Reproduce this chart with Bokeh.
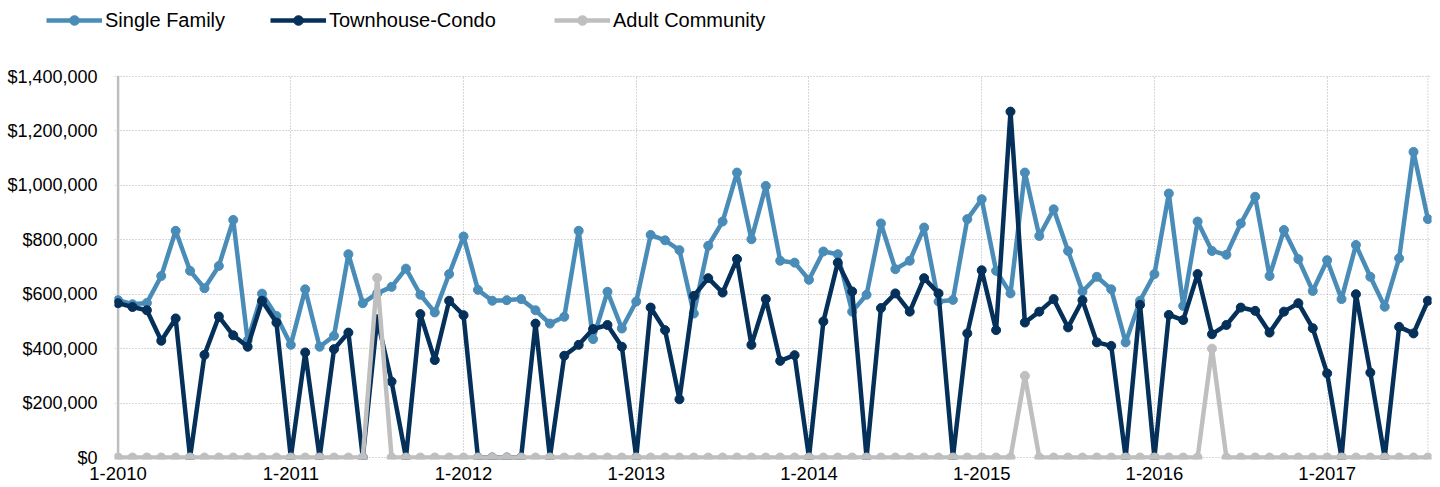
from bokeh.plotting import figure
from bokeh.layouts import column
from bokeh.models import Range1d, FixedTicker, NumeralTickFormatter, Span, Legend, LegendItem
from bokeh.embed import file_html
from bokeh.resources import INLINE

# ---------------- data ----------------
months = [f"{m}-{y}" for y in range(2010, 2018) for m in range(1, 13)][:92]
tick_positions = [0, 12, 24, 36, 48, 60, 72, 84]
tick_labels = ["1-2010", "1-2011", "1-2012", "1-2013", "1-2014", "1-2015", "1-2016", "1-2017"]
y_ticks = [0, 200000, 400000, 600000, 800000, 1000000, 1200000, 1400000]

single_family = [
    578000, 563000, 568000, 667000, 833000, 686000, 622000, 704000, 873000, 430000, 602000, 520000,
    414000, 618000, 407000, 447000, 747000, 567000, 603000, 627000, 694000, 598000, 533000, 674000,
    812000, 616000, 576000, 578000, 582000, 541000, 492000, 517000, 833000, 435000, 609000, 474000,
    573000, 818000, 798000, 762000, 529000, 778000, 867000, 1047000, 802000, 998000, 723000, 716000,
    653000, 757000, 747000, 536000, 598000, 860000, 692000, 723000, 845000, 573000, 579000, 876000,
    949000, 686000, 603000, 1047000, 814000, 912000, 759000, 610000, 664000, 618000, 423000, 576000,
    674000, 970000, 557000, 867000, 759000, 745000, 860000, 958000, 667000, 836000, 729000, 612000,
    725000, 582000, 781000, 664000, 554000, 732000, 1123000, 876000,
]
townhouse_condo = [
    567000, 553000, 541000, 429000, 511000, 0, 377000, 518000, 449000, 407000, 576000, 496000,
    0, 386000, 0, 398000, 459000, 0, 508000, 279000, 0, 527000, 358000, 576000,
    523000, 0, 0, 0, 0, 492000, 0, 374000, 414000, 472000, 487000, 407000,
    0, 551000, 468000, 214000, 594000, 659000, 606000, 729000, 414000, 582000, 355000, 376000,
    0, 500000, 716000, 610000, 0, 549000, 603000, 536000, 659000, 603000, 0, 456000,
    688000, 468000, 1271000, 496000, 536000, 582000, 478000, 578000, 423000, 410000, 0, 561000,
    0, 524000, 505000, 674000, 453000, 487000, 551000, 539000, 459000, 536000, 567000, 475000,
    309000, 0, 600000, 312000, 0, 480000, 456000, 576000,
]
adult_community = [
    0, 0, 0, 0, 0, 0, 0, 0, 0, 0, 0, 0,
    0, 0, 0, 0, 0, 0, 660000, 0, 0, 0, 0, 0,
    0, 0, 0, 0, 0, 0, 0, 0, 0, 0, 0, 0,
    0, 0, 0, 0, 0, 0, 0, 0, 0, 0, 0, 0,
    0, 0, 0, 0, 0, 0, 0, 0, 0, 0, 0, 0,
    0, 0, 0, 300000, 0, 0, 0, 0, 0, 0, 0, 0,
    0, 0, 0, 0, 400000, 0, 0, 0, 0, 0, 0, 0,
    0, 0, 0, 0, 0, 0, 0, 0,
]
series_names = ["Single Family", "Townhouse-Condo", "Adult Community"]
series_colors = ["#4A8CB8", "#04305A", "#BFBFBF"]

# ---------------- main figure ----------------
FONT = "Liberation Sans"
LINE_W = 4.5
MARK = 9
GRID_COLOR = "#B0B0B0"
x = list(range(len(months)))

p = figure(width=1436, height=437, output_backend="svg", toolbar_location=None,
           x_range=Range1d(-0.25, len(months) - 1 + 0.25),
           y_range=Range1d(-7349, 1403675),
           min_border_left=114, min_border_right=5, min_border_top=25, min_border_bottom=28)
p.frame_align = False
p.outline_line_color = None
p.background_fill_color = "white"

for g, tk in ((p.xgrid, tick_positions), (p.ygrid, y_ticks)):
    g.ticker = FixedTicker(ticks=tk)
    g.grid_line_color = GRID_COLOR
    g.grid_line_dash = "1 2"
    g.grid_line_width = 1

xa = p.xaxis[0]
xa.ticker = FixedTicker(ticks=tick_positions)
xa.major_label_overrides = {pos: lbl for pos, lbl in zip(tick_positions, tick_labels)}
xa.axis_line_color = None
xa.major_tick_line_color = None
xa.minor_tick_line_color = None
xa.major_label_standoff = 1
xa.major_label_text_font = FONT
xa.major_label_text_font_size = "18.5px"
xa.major_label_text_color = "black"

ya = p.yaxis[0]
ya.ticker = FixedTicker(ticks=y_ticks)
ya.formatter = NumeralTickFormatter(format="$0,0")
ya.axis_line_color = None
ya.major_tick_line_color = None
ya.minor_tick_line_color = None
ya.major_label_standoff = 11
ya.major_label_text_font = FONT
ya.major_label_text_font_size = "18px"
ya.major_label_text_color = "black"

p.add_layout(Span(location=0, dimension="height", line_color="#BFBFBF",
                  line_width=2.5, level="underlay"))
p.add_layout(Span(location=len(months) - 1, dimension="height", line_color=GRID_COLOR,
                  line_width=1, line_dash="1 2", level="underlay"))

for vals, col in zip([single_family, townhouse_condo, adult_community], series_colors):
    p.line(x, vals, line_color=col, line_width=LINE_W, line_join="round")
    p.scatter(x, vals, size=MARK, fill_color=col, line_color=col)

# ---------------- legend strip ----------------
lg = figure(width=1436, height=50, output_backend="svg", toolbar_location=None,
            x_range=Range1d(0, 1), y_range=Range1d(0, 1),
            x_axis_location=None, y_axis_location=None,
            min_border_left=0, min_border_right=0, min_border_top=0, min_border_bottom=0)
lg.frame_align = False
lg.outline_line_color = None
lg.xgrid.visible = False
lg.ygrid.visible = False

legend_x = [46, 270, 554]
for name, col, lx in zip(series_names, series_colors, legend_x):
    # placeholder glyphs outside the visible range: only their legend swatch shows
    rl = lg.line([5, 6], [5, 6], line_color=col, line_width=LINE_W)
    rs = lg.scatter([5], [5], size=MARK, fill_color=col, line_color=col)
    leg = Legend(items=[LegendItem(label=name, renderers=[rl, rs])],
                 location=(lx, 18), orientation="horizontal",
                 glyph_width=56, glyph_height=24, label_height=24, label_standoff=3,
                 padding=0, margin=0, spacing=0,
                 border_line_color=None, background_fill_alpha=0,
                 label_text_font=FONT, label_text_font_size="20px", label_text_color="black")
    lg.add_layout(leg)

layout = column(lg, p, spacing=0)
open("out.html", "w").write(file_html(layout, INLINE))
